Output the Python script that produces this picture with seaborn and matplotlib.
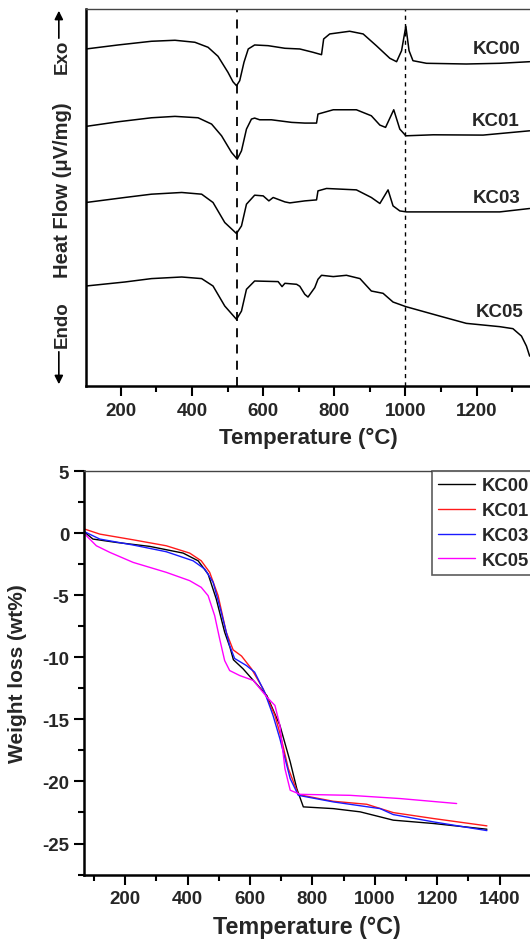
import matplotlib
matplotlib.use("Agg")
import matplotlib.pyplot as plt
import pandas as pd
import numpy as np
import seaborn as sns
from matplotlib.patches import FancyArrowPatch
from matplotlib.ticker import MultipleLocator, NullLocator

# DSC curves (temperature in C, heat flow in arbitrary offset units)
dsc_kc00_t = [102, 192, 286, 352, 408, 445, 473, 501, 515, 525, 534, 546, 558, 576, 614, 661, 703, 740,
              764, 770, 787, 843, 881, 918, 956, 975, 989, 1001, 1010, 1021, 1059, 1171, 1265, 1349]
dsc_kc00_y = [337, 341, 344.7, 345.7, 343.7, 338.7, 329.7, 313.7, 304.3, 300.3, 305.3, 323.7, 337, 341,
              340.3, 337.7, 337, 333.7, 331.3, 347, 352, 354.7, 352, 340.3, 327.7, 324.3, 335.3, 359.7,
              335.3, 325.3, 322.7, 322, 322.7, 324.3]

dsc_kc01_t = [102, 192, 286, 352, 417, 455, 483, 511, 527, 539, 553, 567, 576, 590, 623, 680, 717, 750,
              754, 797, 862, 904, 928, 944, 967, 984, 1001, 1078, 1218, 1349]
dsc_kc01_y = [259.7, 264.3, 268.3, 269.7, 268.3, 262, 250.3, 233.7, 227, 235.3, 257, 267, 268, 266.3,
              266.3, 263.7, 263, 263, 272, 276.3, 276.3, 270.3, 261, 258.7, 276.3, 257, 250.3, 251.3,
              251, 255.3]

dsc_kc03_t = [102, 211, 286, 371, 427, 459, 492, 525, 539, 553, 576, 600, 616, 628, 661, 675, 717, 750,
              754, 778, 862, 904, 928, 951, 965, 984, 1003, 1124, 1265, 1349]
dsc_kc03_y = [183.7, 188.7, 192, 193.7, 192, 183.7, 163.7, 152.7, 160.3, 182, 191, 190.3, 185.3, 188.7,
              184.3, 183.3, 185.3, 186.3, 195.3, 197.7, 196.3, 188.7, 182.7, 196.3, 180.3, 175.3, 174.3,
              174.3, 174.3, 177.7]

dsc_kc05_t = [102, 211, 286, 371, 427, 459, 492, 525, 539, 553, 576, 642, 653, 661, 694, 703, 717, 726,
              745, 754, 764, 797, 834, 872, 904, 937, 965, 1001, 1096, 1171, 1265, 1302, 1326, 1340, 1349]
dsc_kc05_y = [100.3, 104.3, 107.7, 109.3, 107.7, 100.3, 80.3, 67, 75.3, 97, 105.3, 104.7, 99.7, 103, 102,
              100, 92, 89.3, 98.7, 107, 111, 109.7, 111, 107.7, 95.3, 93, 84.3, 79.7, 70.3, 63, 59.7,
              57.7, 50.3, 40.3, 30.3]

dsc_labels = ["KC00", "KC01", "KC03", "KC05"]
dsc_label_t = [1256, 1254, 1256, 1265]
dsc_label_y = [337, 266, 188.7, 75.3]

# TGA curves (temperature in C, weight loss in wt%)
tga_kc00_t = [71, 97, 172, 279, 386, 434, 466, 492, 519, 536, 547, 578, 611, 654, 696, 729, 750, 771,
              867, 953, 1059, 1188, 1359]
tga_kc00_w = [0.06, -0.48, -0.75, -1.07, -1.61, -2.23, -3.3, -5.3, -7.98, -9.2, -10.2, -10.93, -11.87,
              -13.08, -15.49, -18.43, -20.58, -22.05, -22.19, -22.45, -23.12, -23.39, -23.85]

tga_kc01_t = [71, 119, 226, 332, 407, 444, 471, 498, 524, 546, 573, 605, 642, 680, 698, 723, 755, 867,
              974, 1059, 1188, 1359]
tga_kc01_w = [0.32, -0.08, -0.54, -1.02, -1.61, -2.23, -3.16, -5.04, -7.98, -9.4, -9.9, -10.93, -12.54,
              -14.69, -16.3, -18.97, -21.06, -21.6, -21.84, -22.51, -22.99, -23.58]

tga_kc03_t = [71, 119, 226, 332, 418, 455, 482, 508, 535, 551, 589, 615, 647, 674, 696, 729, 755, 867,
              1017, 1059, 1188, 1359]
tga_kc03_w = [0.1, -0.48, -0.96, -1.5, -2.23, -2.89, -3.96, -6.37, -9.06, -10.1, -10.67, -11.2, -12.81,
              -14.69, -16.57, -19.78, -21.12, -21.65, -22.19, -22.67, -23.26, -23.96]

tga_kc05_t = [71, 108, 151, 226, 332, 407, 444, 466, 487, 503, 519, 535, 567, 611, 654, 680, 696, 712,
              729, 761, 921, 1081, 1262]
tga_kc05_w = [-0.08, -1.02, -1.55, -2.36, -3.16, -3.83, -4.37, -5.04, -6.65, -8.52, -10.27, -11.07,
              -11.47, -11.87, -13.2, -13.88, -15.49, -18.97, -20.71, -21.04, -21.12, -21.38, -21.78]

tga_colors = {"KC00": "black", "KC01": "#ff1a1a", "KC03": "#1a1aff", "KC05": "#ff00ff"}

sns.set_theme(style="ticks")
plt.rcParams['font.family'] = ['Liberation Sans', 'DejaVu Sans']
plt.rcParams['font.weight'] = 'bold'
plt.rcParams['axes.labelweight'] = 'bold'
plt.rcParams['axes.unicode_minus'] = False

fig = plt.figure(figsize=(5.3, 9.45), dpi=100)
ax1 = fig.add_axes([0.1623, 0.590, 1 - 0.1623, 0.3995])
ax2 = fig.add_axes([0.1594, 0.0735, 1 - 0.1594, 0.4270])

# ---- DSC panel
dsc = [(dsc_kc00_t, dsc_kc00_y), (dsc_kc01_t, dsc_kc01_y), (dsc_kc03_t, dsc_kc03_y), (dsc_kc05_t, dsc_kc05_y)]
for (t, y) in dsc:
    sns.lineplot(x=t, y=y, ax=ax1, color="black", lw=1.1, estimator=None, sort=False)
for lab, lt, ly in zip(dsc_labels, dsc_label_t, dsc_label_y):
    ax1.text(lt, ly, lab, ha="center", va="center", fontsize=13.5, fontweight="bold")

ax1.axvline(525, color="black", ls=(0, (5, 4)), lw=1.3)
ax1.axvline(1000, color="black", ls=(0, (3, 3)), lw=1.0)

ax1.set_xlim(102, 1350)
ax1.set_ylim(0, 377)
ax1.xaxis.set_major_locator(MultipleLocator(200))
ax1.xaxis.set_minor_locator(MultipleLocator(100))
ax1.yaxis.set_major_locator(NullLocator())
ax1.set_xlabel("Temperature (°C)", fontsize=16, labelpad=6)
ax1.set_ylabel("")

# Exo / Endo annotation
fig.text(0.117, 0.799, "Heat Flow (μV/mg)", rotation=90, ha="center", va="center", fontsize=14.5, fontweight="bold")
fig.text(0.117, 0.940, "Exo", rotation=90, ha="center", va="center", fontsize=13.5, fontweight="bold")
fig.text(0.117, 0.656, "Endo", rotation=90, ha="center", va="center", fontsize=13.5, fontweight="bold")
fig.add_artist(FancyArrowPatch((0.111, 0.9556), (0.111, 0.9905), transform=fig.transFigure,
               arrowstyle="-|>,head_length=5,head_width=2.5", color="black", lw=1.2))
fig.add_artist(FancyArrowPatch((0.111, 0.6296), (0.111, 0.5894), transform=fig.transFigure,
               arrowstyle="-|>,head_length=5,head_width=2.5", color="black", lw=1.2))

# ---- TGA panel
rows = []
for name, t, w in [("KC00", tga_kc00_t, tga_kc00_w), ("KC01", tga_kc01_t, tga_kc01_w),
                   ("KC03", tga_kc03_t, tga_kc03_w), ("KC05", tga_kc05_t, tga_kc05_w)]:
    rows.append(pd.DataFrame({"Temperature": t, "Weight": w, "Sample": name}))
tga = pd.concat(rows, ignore_index=True)
sns.lineplot(data=tga, x="Temperature", y="Weight", hue="Sample", palette=tga_colors, ax=ax2,
             lw=1.0, estimator=None, sort=False)

ax2.set_xlim(70, 1497)
ax2.set_ylim(-27.5, 5)
ax2.xaxis.set_major_locator(MultipleLocator(200))
ax2.xaxis.set_minor_locator(MultipleLocator(100))
ax2.yaxis.set_major_locator(MultipleLocator(5))
ax2.yaxis.set_minor_locator(MultipleLocator(2.5))
ax2.set_xlabel("Temperature (°C)", fontsize=16.8, labelpad=6)
ax2.set_ylabel("Weight loss (wt%)", fontsize=15)
ax2.yaxis.set_label_coords(-0.129, 0.5)

leg = ax2.legend(loc="upper left", bbox_to_anchor=(432 / 530, 0.5005), bbox_transform=fig.transFigure,
                 fontsize=13.3, frameon=True, fancybox=False, borderaxespad=0,
                 handlelength=2.0, handletextpad=0.32, borderpad=0.35, labelspacing=0.42)
leg.get_frame().set_edgecolor("#333333")
leg.get_frame().set_linewidth(1.2)
for txt in leg.get_texts():
    txt.set_fontweight("bold")

for ax in (ax1, ax2):
    for s in ("left", "bottom"):
        ax.spines[s].set_linewidth(1.8)
        ax.spines[s].set_color("black")
    ax.spines["top"].set_linewidth(1.0)
    ax.spines["top"].set_color("#444444")
    ax.spines["right"].set_visible(False)
    ax.tick_params(which="major", direction="out", length=7, width=1.5, color="black", labelsize=13.5, pad=4)
    ax.tick_params(which="minor", direction="out", length=4, width=1.5, color="black")
    for lab in ax.get_xticklabels() + ax.get_yticklabels():
        lab.set_fontweight("bold")

fig.savefig("out.png", dpi=100)
